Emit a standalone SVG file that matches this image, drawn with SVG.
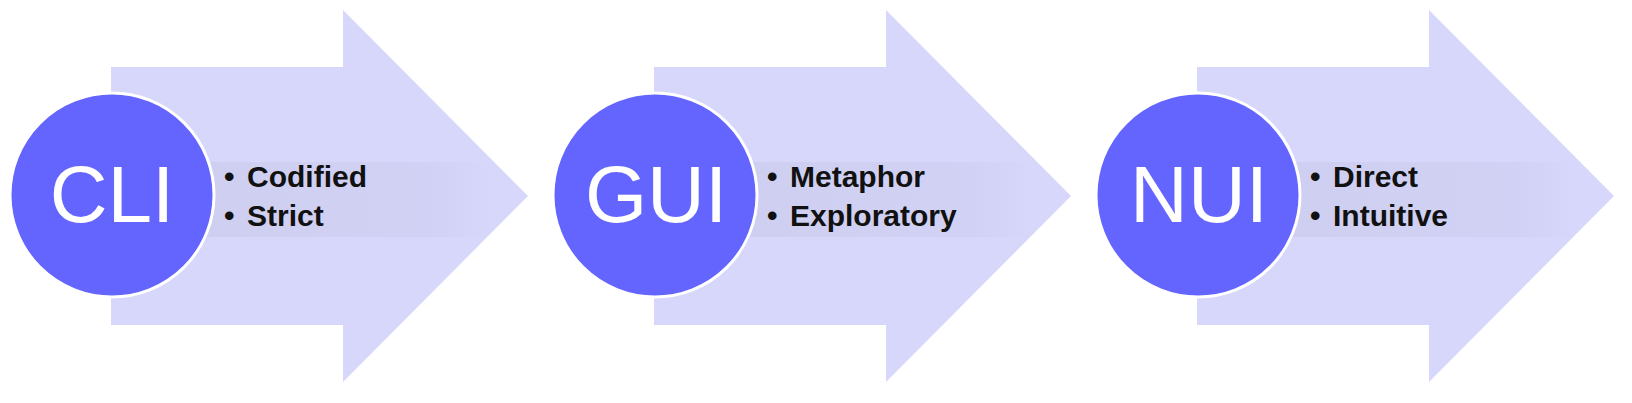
<svg xmlns="http://www.w3.org/2000/svg" width="1632" height="403" viewBox="0 0 1632 403">
  <defs>
    <style>
      .arrow { fill: #D7D7FC; }
      .band { fill: url(#bandGrad); }
      .circ { fill: #6464FF; stroke: #FFFFFF; stroke-width: 3; }
      .title { font-family: "Liberation Sans", Arial, sans-serif; font-size: 80px; fill: #FFFFFF; text-anchor: middle; }
      .item { font-family: "Liberation Sans", Arial, sans-serif; font-size: 30px; font-weight: bold; fill: #111111; }
    </style>
    <linearGradient id="bandGrad" x1="0" y1="0" x2="1" y2="0">
      <stop offset="0" stop-color="#C4C4E4" stop-opacity="0.45"/>
      <stop offset="0.8" stop-color="#C4C4E4" stop-opacity="0.3"/>
      <stop offset="1" stop-color="#C4C4E4" stop-opacity="0"/>
    </linearGradient>
    <path id="arrowShape" d="M111,67 H343 V10 L528,196 L343,382 V325 H111 Z"/>
  </defs>

  <g id="connectors"></g>

  <g id="node-cli">
    <use href="#arrowShape" class="arrow"/>
    <rect class="band" x="200" y="162" width="290" height="75"/>
    <circle class="circ" cx="112" cy="195" r="102"/>
    <text class="title" x="112" y="222">CLI</text>
    <text class="item" x="224" y="187">•</text>
    <text class="item" x="247" y="187">Codified</text>
    <text class="item" x="224" y="226">•</text>
    <text class="item" x="247" y="226">Strict</text>
  </g>

  <g id="node-gui" transform="translate(543,0)">
    <use href="#arrowShape" class="arrow"/>
    <rect class="band" x="200" y="162" width="290" height="75"/>
    <circle class="circ" cx="112" cy="195" r="102"/>
    <text class="title" x="113" y="222">GUI</text>
    <text class="item" x="224" y="187">•</text>
    <text class="item" x="247" y="187">Metaphor</text>
    <text class="item" x="224" y="226">•</text>
    <text class="item" x="247" y="226">Exploratory</text>
  </g>

  <g id="node-nui" transform="translate(1086,0)">
    <use href="#arrowShape" class="arrow"/>
    <rect class="band" x="200" y="162" width="290" height="75"/>
    <circle class="circ" cx="112" cy="195" r="102"/>
    <text class="title" x="113" y="222">NUI</text>
    <text class="item" x="224" y="187">•</text>
    <text class="item" x="247" y="187">Direct</text>
    <text class="item" x="224" y="226">•</text>
    <text class="item" x="247" y="226">Intuitive</text>
  </g>
</svg>
